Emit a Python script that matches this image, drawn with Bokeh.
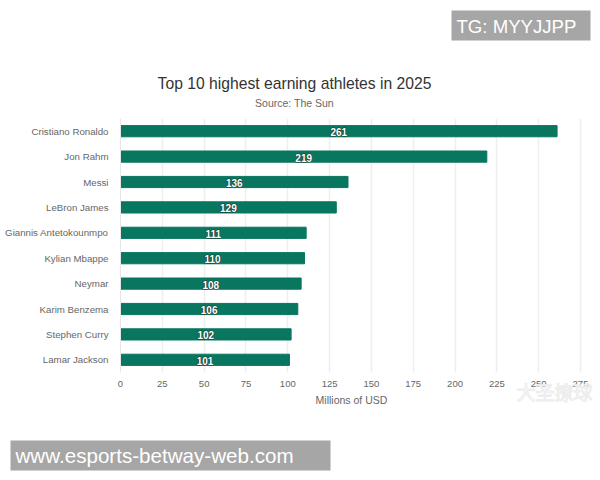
from bokeh.plotting import figure
from bokeh.core.properties import value
from bokeh.layouts import column
from bokeh.models import ColumnDataSource, Label, BoxAnnotation, FixedTicker, Range1d
from bokeh.embed import file_html
from bokeh.resources import INLINE

athletes = ["Cristiano Ronaldo", "Jon Rahm", "Messi", "LeBron James", "Giannis Antetokounmpo",
            "Kylian Mbappe", "Neymar", "Karim Benzema", "Stephen Curry", "Lamar Jackson"]
earnings = [261, 219, 136, 129, 111, 110, 108, 106, 102, 101]
x_ticks = [0, 25, 50, 75, 100, 125, 150, 175, 200, 225, 250, 275]
title_text = "Top 10 highest earning athletes in 2025"
subtitle_text = "Source: The Sun"
x_label = "Millions of USD"
banner_top = "TG: MYYJJPP"
banner_bottom = "www.esports-betway-web.com"
stamp = "大圣撩球"

FONT = "Liberation Sans"
W, H = 600, 480
source = ColumnDataSource(dict(name=athletes, value=earnings, mid=[v / 2 for v in earnings],
                               label=[str(v) for v in earnings]))

p = figure(width=W, height=H, output_backend="svg", toolbar_location=None,
           y_range=athletes[::-1], x_range=(0, 276.2), frame_align=False,
           min_border_left=120, min_border_right=18, min_border_top=118, min_border_bottom=108,
           outline_line_color=None, background_fill_color="white", border_fill_color="white")

p.hbar(y="name", left=0, right="value", height=0.44, source=source,
       fill_color="#09765f", line_color="#09765f")
p.text(x="mid", y="name", text="label", source=source, text_color="#1c3a34", text_font=value(FONT),
       text_font_style="bold", text_font_size="10px", text_align="center", text_baseline="middle",
       text_outline_color="#1c3a34", y_offset=1)
p.text(x="mid", y="name", text="label", source=source, text_color="white", text_font=value(FONT),
       text_font_style="bold", text_font_size="10px", text_align="center", text_baseline="middle",
       y_offset=1)

p.xgrid.ticker = FixedTicker(ticks=x_ticks)
p.xgrid.grid_line_color = "#eeeeee"
p.xgrid.grid_line_width = 1.5
p.ygrid.grid_line_color = None

p.xaxis.ticker = FixedTicker(ticks=x_ticks)
p.xaxis.axis_line_color = None
p.xaxis.major_tick_line_color = None
p.xaxis.minor_tick_line_color = None
p.xaxis.major_tick_out = 0
p.xaxis.major_label_text_font = FONT
p.xaxis.major_label_text_font_size = "9.5px"
p.xaxis.major_label_text_color = "#666666"
p.xaxis.major_label_standoff = 8
p.xaxis.axis_label = x_label
p.xaxis.axis_label_text_font = FONT
p.xaxis.axis_label_text_font_size = "10.5px"
p.xaxis.axis_label_text_font_style = "normal"
p.xaxis.axis_label_text_color = "#666666"
p.xaxis.axis_label_standoff = 4

p.yaxis.axis_line_color = "#e6e6e6"
p.yaxis.axis_line_width = 1
p.yaxis.major_tick_line_color = None
p.yaxis.minor_tick_line_color = None
p.yaxis.major_tick_out = 0
p.yaxis.major_label_text_font = FONT
p.yaxis.major_label_text_font_size = "9.7px"
p.yaxis.major_label_text_color = "#666666"
p.yaxis.major_label_standoff = 12

# Transparent full-page layer carrying the title, source line and the picture's overlaid banners.
layer = figure(width=W, height=H, output_backend="svg", toolbar_location=None,
               x_range=Range1d(0, W), y_range=Range1d(H, 0), frame_align=False,
               x_axis_location=None, y_axis_location=None,
               min_border=0, outline_line_color=None,
               background_fill_alpha=0, border_fill_alpha=0,
               margin=(-H, 0, 0, 0))
layer.grid.visible = False


def text_at(x, y, text, font=FONT, size="10px", color="#666666", align="left", alpha=1.0, outline=None):
    layer.add_layout(Label(x=x, y=y, text=text, text_font=font, text_font_size=size,
                           text_color=color, text_alpha=alpha, text_align=align,
                           text_baseline="middle", text_outline_color=outline))


def box_at(left, right, top, bottom):
    layer.add_layout(BoxAnnotation(left=left, right=right, top=top, bottom=bottom,
                                   fill_color="#a6a6a6", fill_alpha=1, line_color=None))


text_at(294, 83, title_text, size="15.7px", color="#333333", align="center")
text_at(294, 102.5, subtitle_text, size="10.5px", align="center")
box_at(451, 590, 10, 40)
text_at(456, 26, banner_top, size="18.6px", color="white")
box_at(10, 330, 440, 470)
text_at(15, 455, banner_bottom, size="20.6px", color="white")
text_at(554, 391, stamp, font="Noto Sans CJK SC", size="19px", color="white", align="center",
        outline="#ececec")

page = column(p, layer, spacing=0)
open("out.html", "w").write(file_html(page, INLINE))
